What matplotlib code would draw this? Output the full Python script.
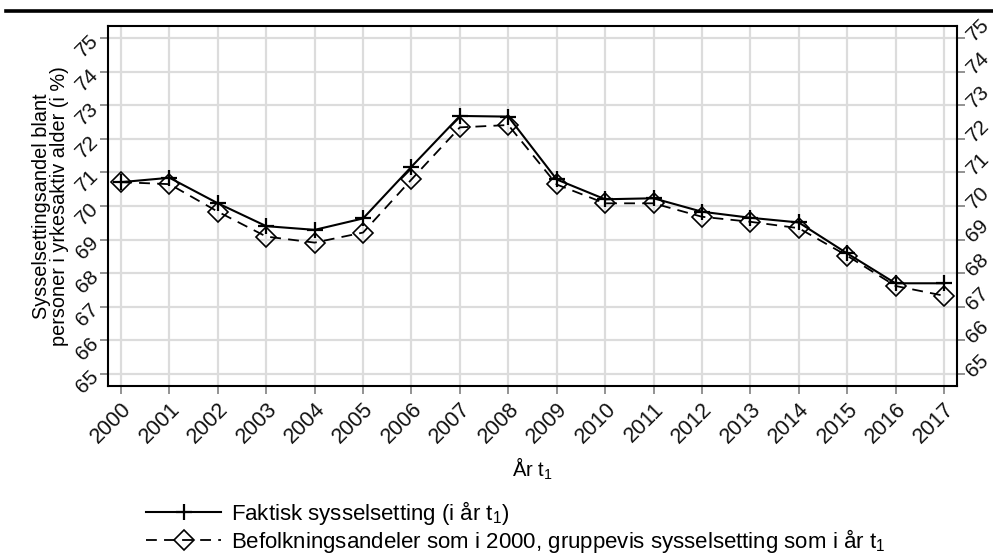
import matplotlib
matplotlib.use("Agg")
import matplotlib.pyplot as plt
from matplotlib.lines import Line2D

plt.rcParams['font.family'] = ['Liberation Sans', 'DejaVu Sans']
plt.rcParams['mathtext.fontset'] = 'custom'
plt.rcParams['mathtext.rm'] = 'Liberation Sans'
plt.rcParams['mathtext.it'] = 'Liberation Sans'

years = list(range(2000, 2018))
faktisk = [70.71, 70.84, 70.08, 69.40, 69.29, 69.63, 71.17, 72.68, 72.66,
           70.79, 70.20, 70.23, 69.83, 69.65, 69.51, 68.59, 67.70, 67.70]
befolk = [70.71, 70.65, 69.83, 69.09, 68.91, 69.21, 70.79, 72.34, 72.41,
          70.64, 70.08, 70.08, 69.68, 69.53, 69.34, 68.52, 67.62, 67.33]
yticks = list(range(65, 76))
label_faktisk = "Faktisk sysselsetting (i år t$_\\mathrm{1}$)"
label_befolk = "Befolkningsandeler som i 2000, gruppevis sysselsetting som i år t$_\\mathrm{1}$"
ylabel = "Sysselsettingsandel blant\npersoner i yrkesaktiv alder (i %)"
xlabel = "År t$_\\mathrm{1}$"

W, H = 993, 558
fig = plt.figure(figsize=(W / 100, H / 100), dpi=100)
ax = fig.add_axes([108 / W, 1 - 386 / H, (957 - 108) / W, (386 - 26) / H])

grid_c = '#dcdcdc'
for y in yticks:
    ax.axhline(y, color=grid_c, lw=1.6, zorder=0)
for x in years:
    ax.axvline(x, color=grid_c, lw=1.6, zorder=0)

ax.plot(years, faktisk, color='black', lw=1.5, marker='+', ms=11, mew=1.6,
        label=label_faktisk, zorder=3)
ax.plot(years, befolk, color='black', lw=1.3, ls=(0, (6, 4)), marker='D', ms=10.5,
        mfc='none', mec='black', mew=1.2, label=label_befolk, zorder=2)

XFS = 15.5
YFS = 15
ax.set_xlim(1999.73, 2017.27)
ax.set_ylim(64.643, 75.357)
ax.set_xticks(years)
ax.set_xticklabels([str(y) for y in years], rotation=45, ha='right',
                   rotation_mode='anchor', fontsize=XFS)
ax.set_yticks(yticks)
ax.set_yticklabels([str(y) for y in yticks], rotation=45, ha='right', va='center',
                   rotation_mode='anchor', fontsize=YFS)
ax.tick_params(axis='both', direction='out', length=6, width=1.2, color='#808080',
               labelcolor='#111111', pad=3)
ax.tick_params(axis='y', right=True, labelright=True)
for t in ax.yaxis.get_major_ticks():
    t.label2.set_rotation(45)
    t.label2.set_ha('left')
    t.label2.set_va('center')
    t.label2.set_rotation_mode('anchor')
    t.label2.set_fontsize(YFS)

for s in ax.spines.values():
    s.set_color('black')
    s.set_linewidth(1.5)

ax.set_xlabel(xlabel, fontsize=14.5, labelpad=6)
ax.set_ylabel(ylabel, fontsize=14.3, labelpad=2, linespacing=0.95)

leg = fig.legend(loc='upper left', bbox_to_anchor=(137 / W, 1 - 490 / H), frameon=False,
                 fontsize=16, handlelength=3.4, handletextpad=0.45, labelspacing=0.0,
                 borderaxespad=0)

fig.add_artist(Line2D([6 / W, 1.0], [1 - 11 / H, 1 - 11 / H], color='black', lw=2.6,
                      transform=fig.transFigure))

fig.savefig('out.png', dpi=100)
